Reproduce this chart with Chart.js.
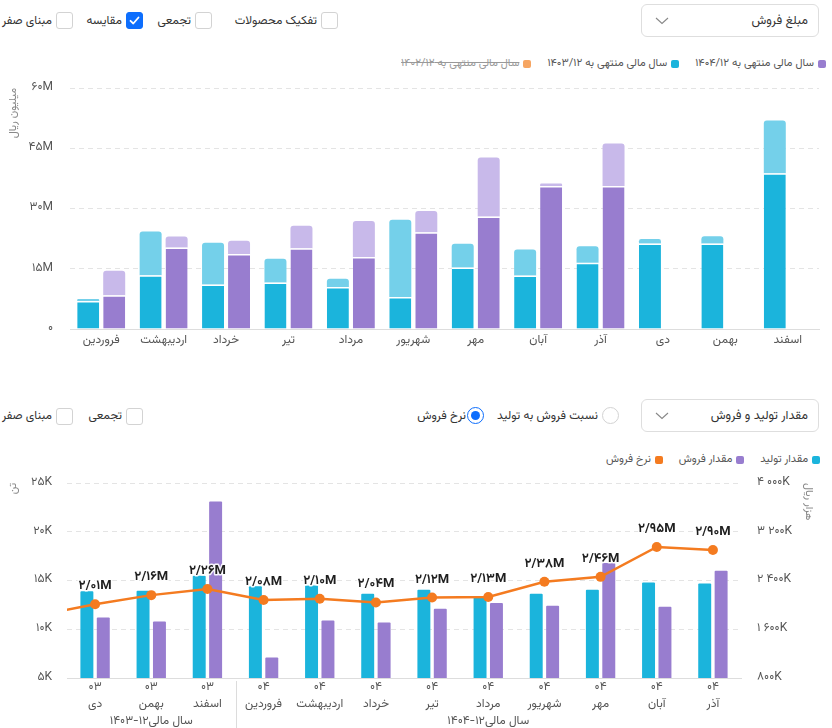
<!DOCTYPE html>
<html><head><meta charset="utf-8">
<script src="https://cdn.jsdelivr.net/npm/chart.js@4.4.1/dist/chart.umd.min.js"></script>
<style>
html,body{margin:0;padding:0;background:#fff}
body{width:832px;height:728px;overflow:hidden;position:relative;font-family:'Vazirmatn','DejaVu Sans',sans-serif;color:#333}
.cb{position:absolute;width:17px;height:17px;border:1px solid #d3d3d3;border-radius:3px;box-sizing:border-box;background:#fff}
.cb.on{background:#0d6efd;border-color:#0d6efd}
.cb svg{position:absolute;left:2px;top:2px}
.txt{position:absolute;font-size:12px;white-space:nowrap;direction:rtl;line-height:16px;color:#333}
.dd{position:absolute;border:1px solid #dedede;border-radius:6px;box-sizing:border-box;background:#fff}
.dd .t{position:absolute;right:10px;top:0;bottom:0;display:flex;align-items:center;font-size:12.5px;direction:rtl;color:#333}
.dd svg{position:absolute;left:13px;top:12px}
.radio{position:absolute;width:17px;height:17px;border:1px solid #d3d3d3;border-radius:50%;box-sizing:border-box;background:#fff}
.radio.on{border:1.5px solid #0d6efd}
.radio.on::after{content:'';position:absolute;left:2.5px;top:2.5px;width:9px;height:9px;border-radius:50%;background:#0d6efd}
.legend{position:absolute;display:flex;direction:rtl;align-items:center;font-size:11px;color:#555;white-space:nowrap}
.legend .it{display:flex;align-items:center;margin-left:16px}
.legend .sq{width:8px;height:8px;border-radius:2px;margin-left:4px}
.legend .it.off span{text-decoration:line-through;color:#999}
canvas{position:absolute;left:0}
</style></head>
<body>
<!-- top controls -->
<div class="txt" style="right:780px;top:13px">مبنای صفر</div>
<div class="cb" style="left:56px;top:12px"></div>
<div class="txt" style="right:710px;top:13px">مقایسه</div>
<div class="cb on" style="left:126px;top:12px"><svg width="11" height="11" viewBox="0 0 11 11"><polyline points="1.5,5.8 4.3,8.5 9.5,2.5" fill="none" stroke="#fff" stroke-width="1.8" stroke-linecap="round" stroke-linejoin="round"/></svg></div>
<div class="txt" style="right:641px;top:13px">تجمعی</div>
<div class="cb" style="left:195px;top:12px"></div>
<div class="txt" style="right:515px;top:13px">تفکیک محصولات</div>
<div class="cb" style="left:321px;top:12px"></div>
<div class="dd" style="left:641px;top:4px;width:178px;height:33px"><span class="t">مبلغ فروش</span><svg width="14" height="8" viewBox="0 0 14 8"><polyline points="1,1 7,6.5 13,1" fill="none" stroke="#888" stroke-width="1.1"/></svg></div>
<div class="legend" id="leg1" style="right:6px;top:55px"></div>
<canvas id="c1" width="832" height="290" style="top:70px;width:832px;height:290px"></canvas>

<!-- bottom controls -->
<div class="txt" style="right:780px;top:408px">مبنای صفر</div>
<div class="cb" style="left:56px;top:408px"></div>
<div class="txt" style="right:710px;top:408px">تجمعی</div>
<div class="cb" style="left:126px;top:408px"></div>
<div class="txt" style="right:366px;top:408px">نرخ فروش</div>
<div class="radio on" style="left:467px;top:407px"></div>
<div class="txt" style="right:234px;top:408px">نسبت فروش به تولید</div>
<div class="radio" style="left:602px;top:407px"></div>
<div class="dd" style="left:641px;top:399px;width:178px;height:33px"><span class="t">مقدار تولید و فروش</span><svg width="14" height="8" viewBox="0 0 14 8"><polyline points="1,1 7,6.5 13,1" fill="none" stroke="#888" stroke-width="1.1"/></svg></div>
<div class="legend" id="leg2" style="right:12px;top:451px"></div>
<canvas id="c2" width="832" height="263" style="top:465px;width:832px;height:263px"></canvas>

<script>
// ---------- data: top chart (million rials) ----------
const months = ['فروردین','اردیبهشت','خرداد','تیر','مرداد','شهریور','مهر','آبان','آذر','دی','بهمن','اسفند'];
const sales1403Main  = [7.0, 13.4, 11.1, 11.6, 10.45, 7.96, 15.3, 13.3, 16.5, 21.3, 21.3, 38.8];
const sales1403Other = [0.5, 10.85, 10.4, 5.9, 2.05, 19.24, 5.9, 6.5, 4.1, 1.1, 1.8, 13.1];
const sales1404Main  = [8.4, 20.3, 18.7, 20.1, 17.9, 24.1, 28.0, 35.6, 35.6, null, null, null];
const sales1404Other = [6.1, 2.7, 3.3, 5.6, 9.0, 5.3, 14.7, 0.6, 10.6, null, null, null];
const topYTicks = [0, 15, 30, 45, 60];

// ---------- data: bottom chart ----------
const periodYears  = ['۰۳','۰۳','۰۳','۰۳','۰۴','۰۴','۰۴','۰۴','۰۴','۰۴','۰۴','۰۴','۰۴'];
const periodMonths = ['آذر','دی','بهمن','اسفند','فروردین','اردیبهشت','خرداد','تیر','مرداد','شهریور','مهر','آبان','آذر'];
const production   = [null, 13.9, 13.95, 15.5, 14.4, 14.5, 13.65, 14.05, 13.4, 13.65, 14.05, 14.8, 14.7]; // thousand tons
const salesQty     = [null, 11.2, 10.8, 23.1, 7.1, 10.9, 10.7, 12.1, 12.7, 12.4, 16.8, 12.3, 16.0];      // thousand tons
const salesRate    = [1830, 2010, 2160, 2260, 2080, 2100, 2040, 2120, 2130, 2380, 2460, 2950, 2900];  // thousand rials
const fiscalGroups = [
  {label:'سال مالی۱۲-۱۴۰۳', year:'۰۳'},
  {label:'سال مالی۱۲-۱۴۰۴', year:'۰۴'}
];
const leftTicks  = [5, 10, 15, 20, 25];
const rightTicks = [800, 1600, 2400, 3200, 4000];

// ---------- helpers ----------
const FA = '۰۱۲۳۴۵۶۷۸۹';
const fa = s => String(s).replace(/\d/g, d => FA[d]);
const FONT = "'Vazirmatn','DejaVu Sans',sans-serif";
Chart.defaults.font.family = FONT;
Chart.defaults.animation = false;

const C = {
  blue:'#1bb4dc', blueL:'#74d0ea', purple:'#987dcf', purpleL:'#c8b9ea', orange:'#f6a562', line:'#f47b20'
};

function renderLegend(el, chart, keep){
  const items = Chart.defaults.plugins.legend.labels.generateLabels(chart).filter(i => keep.includes(i.datasetIndex));
  items.sort((a,b)=> keep.indexOf(a.datasetIndex) - keep.indexOf(b.datasetIndex));
  el.innerHTML = items.map(i => `<div class="it${i.hidden?' off':''}"><div class="sq" style="background:${i.fillStyle}"></div><span>${i.text}</span></div>`).join('');
}
const fixV = w => function(s){ s.width = w; s.paddingTop = 0; s.paddingBottom = 0; };

// ---------- top chart ----------
const c1 = new Chart(document.getElementById('c1'), {
  type:'bar',
  data:{
    labels: months,
    datasets:[
      {label:'سال مالی منتهی به ۱۴۰۳/۱۲', data:sales1403Main, stack:'y1403', backgroundColor:C.blue, borderColor:'#fff', borderWidth:{top:1.5,left:0,right:0,bottom:0}, borderSkipped:'start'},
      {label:'1403b', data:sales1403Other, stack:'y1403', backgroundColor:C.blueL, borderRadius:3, borderSkipped:'start'},
      {label:'سال مالی منتهی به ۱۴۰۴/۱۲', data:sales1404Main, stack:'y1404', backgroundColor:C.purple, borderColor:'#fff', borderWidth:{top:1.5,left:0,right:0,bottom:0}, borderSkipped:'start'},
      {label:'1404b', data:sales1404Other, stack:'y1404', backgroundColor:C.purpleL, borderRadius:3, borderSkipped:'start'},
      {label:'سال مالی منتهی به ۱۴۰۲/۱۲', data:[], stack:'y1402', backgroundColor:C.orange, hidden:true}
    ]
  },
  options:{
    responsive:false, maintainAspectRatio:false,
    categoryPercentage:0.833, barPercentage:0.846,
    layout:{padding:{top:18,right:13,left:0,bottom:0}},
    plugins:{legend:{display:false}, tooltip:{enabled:false}},
    scales:{
      x:{stacked:true, grid:{display:false, drawTicks:false}, border:{display:true, color:'#dddddd'},
         ticks:{color:'#555', font:{size:12}, padding:5, maxRotation:0, autoSkip:false},
         afterFit(s){ s.height = 31; }},
      y:{stacked:true, min:0, max:60, afterBuildTicks(s){ s.ticks = topYTicks.map(v=>({value:v})); },
         ticks:{color:'#555', font:{size:12}, padding:17, callback:v => v ? fa(v)+'M' : fa(v)},
         grid:{color:'#e4e4e4', drawTicks:false}, border:{display:false, dash:[5,4]},
         title:{display:true, text:'میلیون ریال', align:'end', color:'#888', font:{size:11}, padding:{top:8}},
         afterFit: fixV(70)}
    }
  }
});
renderLegend(document.getElementById('leg1'), c1, [2,0,4]);

// ---------- bottom chart ----------
const rateLabels = {
  id:'rateLabels',
  afterDatasetsDraw(chart){
    const meta = chart.getDatasetMeta(0);
    const {ctx, chartArea} = chart;
    ctx.save();
    ctx.font = "bold 13px " + FONT;
    ctx.textAlign = 'center'; ctx.textBaseline = 'middle';
    ctx.lineJoin = 'round';
    meta.data.forEach((pt, i) => {
      if (pt.x < chartArea.left || pt.x > chartArea.right) return;
      const t = fa((salesRate[i]/1000).toFixed(2)).replace('.', '/') + 'M';
      ctx.strokeStyle = 'rgba(255,255,255,0.9)'; ctx.lineWidth = 3;
      ctx.strokeText(t, pt.x, pt.y - 17);
      ctx.fillStyle = '#1f1f1f';
      ctx.fillText(t, pt.x, pt.y - 17);
    });
    ctx.restore();
  }
};
const fiscalGroupPlugin = {
  id:'fiscalGroups',
  afterDraw(chart){
    const x = chart.scales.x, {ctx, chartArea} = chart;
    ctx.save();
    ctx.font = "12px " + FONT; ctx.fillStyle = '#555'; ctx.textAlign='center'; ctx.textBaseline='middle';
    let prevEnd = null;
    fiscalGroups.forEach(g => {
      const idx = periodYears.map((y,i)=>y===g.year?i:-1).filter(i=>i>=x.min && i<=x.max);
      const a = x.getPixelForValue(idx[0]), b = x.getPixelForValue(idx[idx.length-1]);
      ctx.fillText(g.label, (a+b)/2, chart.height - 6);
      if (prevEnd !== null) {
        const sx = Math.round((prevEnd + a)/2) + 0.5;
        ctx.strokeStyle = '#dcdcdc'; ctx.lineWidth = 1;
        ctx.beginPath(); ctx.moveTo(sx, chartArea.bottom + 3); ctx.lineTo(sx, chart.height); ctx.stroke();
      }
      prevEnd = b;
    });
    ctx.restore();
  }
};
const c2 = new Chart(document.getElementById('c2'), {
  type:'bar',
  data:{
    labels: periodMonths.map((m,i)=>[periodYears[i], m]),
    datasets:[
      {type:'line', label:'نرخ فروش', data:salesRate, yAxisID:'y1', order:-1, borderColor:C.line, backgroundColor:C.line,
       borderWidth:2.5, pointRadius:5, pointHoverRadius:5, pointBorderWidth:0, pointBackgroundColor:C.line, tension:0},
      {label:'مقدار تولید', data:production, yAxisID:'y', backgroundColor:C.blue, borderRadius:1},
      {label:'مقدار فروش', data:salesQty, yAxisID:'y', backgroundColor:C.purple, borderRadius:1}
    ]
  },
  options:{
    responsive:false, maintainAspectRatio:false,
    categoryPercentage:0.584, barPercentage:0.79,
    layout:{padding:{top:18,right:0,left:0,bottom:0}},
    plugins:{legend:{display:false}, tooltip:{enabled:false}},
    scales:{
      x:{min:1, max:12, grid:{display:false, drawTicks:false}, border:{display:true, color:'#dddddd'},
         ticks:{color:'#555', font:{size:12, lineHeight:1.4}, padding:2, maxRotation:0, autoSkip:false},
         afterFit(s){ s.height = 50; }},
      y:{position:'left', min:5, max:25, afterBuildTicks(s){ s.ticks = leftTicks.map(v=>({value:v})); },
         ticks:{color:'#555', font:{size:12}, padding:15, callback:v => fa(v)+'K'},
         grid:{color:'#e4e4e4', drawTicks:false}, border:{display:false, dash:[5,4]},
         title:{display:true, text:'تن', align:'end', color:'#888', font:{size:11}, padding:{top:8}},
         afterFit: fixV(67)},
      y1:{position:'right', min:800, max:4000, afterBuildTicks(s){ s.ticks = rightTicks.map(v=>({value:v})); },
         ticks:{color:'#555', font:{size:12}, padding:16, callback:v => fa(v>=1000 ? Math.floor(v/1000)+' '+String(v%1000).padStart(3,'0') : v)+'K'},
         grid:{display:false, drawTicks:false}, border:{display:false},
         title:{display:true, text:'هزار ریال', align:'end', color:'#888', font:{size:11}, padding:{top:18}},
         afterFit: fixV(91)}
    }
  },
  plugins:[rateLabels, fiscalGroupPlugin]
});
renderLegend(document.getElementById('leg2'), c2, [1,2,0]);
</script>
</body></html>
